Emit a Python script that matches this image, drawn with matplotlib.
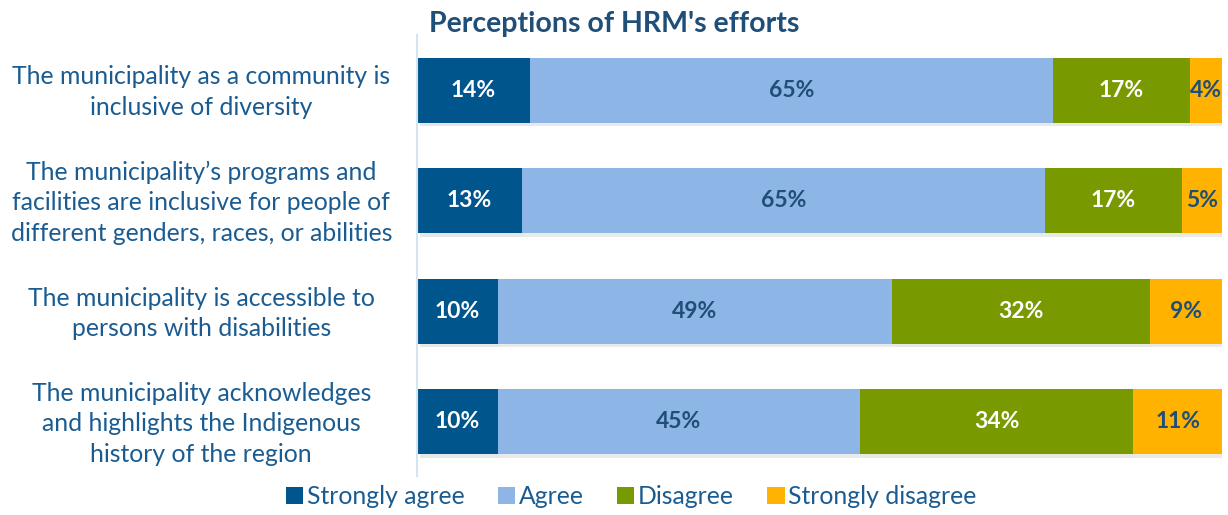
import matplotlib.pyplot as plt
import matplotlib.patheffects as pe
import matplotlib.transforms as mtransforms
import numpy as np

plt.rcParams["font.family"] = ["Lato", "DejaVu Sans"]

categories = [
    "The municipality as a community is\ninclusive of diversity",
    "The municipality\u2019s programs and\nfacilities are inclusive for people of\ndifferent genders, races, or abilities",
    "The municipality is accessible to\npersons with disabilities",
    "The municipality acknowledges\nand highlights the Indigenous\nhistory of the region",
]
series_names = ["Strongly agree", "Agree", "Disagree", "Strongly disagree"]
strongly_agree = [14, 13, 10, 10]
agree = [65, 65, 49, 45]
disagree = [17, 17, 32, 34]
strongly_disagree = [4, 5, 9, 11]

colors = ["#00558C", "#8DB5E6", "#789A00", "#FFB300"]
label_colors = ["white", "#1F4E79", "white", "#1F4E79"]
text_blue = "#1A5C92"

fig = plt.figure(figsize=(12.28, 5.15), dpi=100)
ax = fig.add_axes([0.3396, 0.0757, 0.6555, 0.8563])

y = np.arange(len(categories))
left = np.zeros(len(categories))
shadow = [pe.SimplePatchShadow(offset=(2, -2.5), alpha=0.1), pe.Normal()]
for name, vals, col, lcol in zip(series_names,
                                 [strongly_agree, agree, disagree, strongly_disagree],
                                 colors, label_colors):
    vals = np.array(vals, dtype=float)
    bars = ax.barh(y, vals, left=left, height=0.59, color=col, label=name)
    for b in bars:
        b.set_path_effects(shadow)
    for yi, l, v in zip(y, left, vals):
        ax.text(l + v / 2, yi, f"{v:.0f}%", ha="center", va="center",
                color=lcol, fontsize=16.5, fontweight="bold")
    left += vals

ax.set_xlim(0, 100)
ax.set_ylim(3.49, -0.5)
ax.set_yticks([])
ax.set_xticks([])

# category labels, centred in the left margin
trans = mtransforms.blended_transform_factory(ax.transAxes, ax.transData)
trans = trans + mtransforms.ScaledTranslation(0, -2 / 100, fig.dpi_scale_trans)
for yi, cat in zip(y, categories):
    ax.text(-0.268, yi, cat, transform=trans, ha="center", va="center",
            fontsize=17.8, color=text_blue, linespacing=1.4)

for s in ["top", "right", "bottom"]:
    ax.spines[s].set_visible(False)
ax.spines["left"].set_color("#D6E3F0")
ax.spines["left"].set_linewidth(1.5)

fig.text(0.5, 0.953, "Perceptions of HRM's efforts", ha="center", va="center",
         fontsize=20.5, fontweight="bold", color="#1F4E79")

leg = fig.legend(loc="center", bbox_to_anchor=(0.514, 0.035), ncol=4,
                 frameon=False, fontsize=17.8, handlelength=0.7,
                 handleheight=0.7, handletextpad=0.15, columnspacing=1.35)
for t in leg.get_texts():
    t.set_color(text_blue)
for h in leg.legend_handles:
    h.set_path_effects([])

fig.savefig("out.png", dpi=100)
